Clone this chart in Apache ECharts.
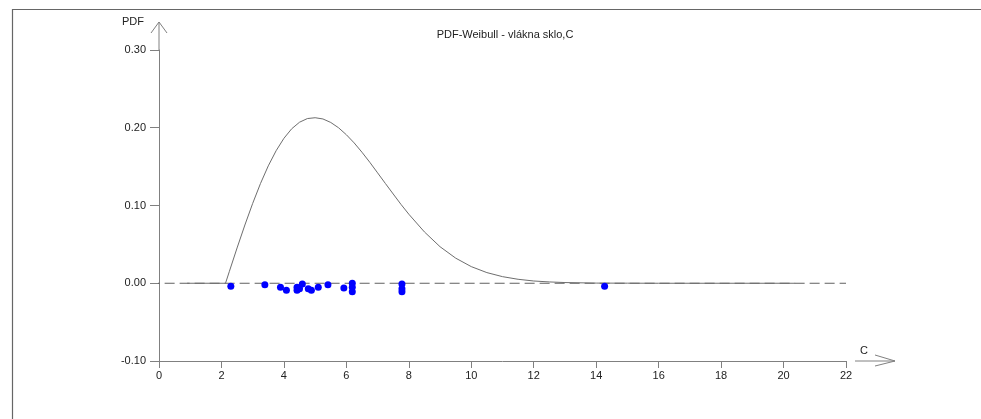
<!DOCTYPE html>
<html>
<head>
<meta charset="utf-8">
<script src="https://cdn.jsdelivr.net/npm/echarts@6/dist/echarts.min.js"></script>
<style>
  html, body { margin: 0; padding: 0; background: #fff; }
  #chart { width: 981px; height: 419px; }
</style>
</head>
<body>
<div id="chart"></div>
<script>
// fitted Weibull curve
const curveX = [0.9, 2.13, 2.25, 2.5, 2.75, 3, 3.25, 3.5, 3.75, 4, 4.25, 4.5, 4.75, 5, 5.25, 5.5, 5.75, 6, 6.25, 6.5, 6.75, 7, 7.25, 7.5, 7.75, 8, 8.5, 9, 9.5, 10, 10.5, 11, 11.5, 12, 12.5, 13, 14, 15, 16, 18, 20.37]
const curveY = [0, 0, 0.0148, 0.0454, 0.0749, 0.1027, 0.1283, 0.1510, 0.1704, 0.1864, 0.1987, 0.2071, 0.2118, 0.2129, 0.2113, 0.2068, 0.2000, 0.1910, 0.1805, 0.1685, 0.1556, 0.1420, 0.1283, 0.1148, 0.1014, 0.0888, 0.0660, 0.0470, 0.0323, 0.0214, 0.0137, 0.0085, 0.0051, 0.0029, 0.0017, 0.0009, 0.0002, 0.0001, 0, 0, 0]

// measured values (jittered just below zero)
const pointX = [2.30, 3.39, 3.89, 4.08, 4.42, 4.42, 4.50, 4.59, 4.78, 4.88, 5.10, 5.41, 5.92, 6.19, 6.19, 6.19, 7.78, 7.78, 7.78, 14.27]
const pointY = [-0.004, -0.002, -0.005, -0.009, -0.005, -0.009, -0.007, -0.001, -0.007, -0.009, -0.005, -0.002, -0.006, 0.000, -0.005, -0.011, -0.001, -0.007, -0.011, -0.004]

const zeroLineX = [-0.3, 22]
const zeroLineY = [0, 0]

const chartTitle = 'PDF-Weibull - vlákna sklo,C'
const xName = 'C'
const yName = 'PDF'

const axisColor = '#808080'
const textColor = '#222'
const font = 'Liberation Sans, Arial, sans-serif'

const chart = echarts.init(document.getElementById('chart'))

const zip = (xs, ys) => xs.map((x, i) => [x, ys[i]])

const option = {
  animation: false,
  backgroundColor: '#fff',
  title: {
    text: chartTitle,
    left: 500,
    top: 24,
    textAlign: 'center',
    textStyle: { fontFamily: font, fontSize: 11, fontWeight: 'normal', color: textColor }
  },
  grid: { left: 159, right: 135, top: 50, bottom: 58 },
  xAxis: {
    type: 'value',
    min: 0, max: 22, interval: 2,
    axisLine: { show: true, onZero: false, lineStyle: { color: axisColor, width: 1 } },
    axisTick: { show: true, length: 7, lineStyle: { color: axisColor } },
    axisLabel: { color: textColor, fontFamily: font, fontSize: 11, margin: 9 },
    splitLine: { show: false }
  },
  yAxis: {
    type: 'value',
    min: -0.1, max: 0.3, interval: 0.1,
    axisLine: { show: true, onZero: false, lineStyle: { color: axisColor, width: 1 } },
    axisTick: { show: true, length: 9, lineStyle: { color: axisColor } },
    axisLabel: { color: textColor, fontFamily: font, fontSize: 11, margin: 13, formatter: v => v.toFixed(2) },
    splitLine: { show: false }
  },
  series: [
    {
      type: 'line',
      data: zip(zeroLineX, zeroLineY),
      symbol: 'none',
      clip: false,
      lineStyle: { color: '#606060', width: 1, type: [10, 5] },
      z: 1
    },
    {
      type: 'line',
      data: zip(curveX, curveY),
      symbol: 'none',
      smooth: false,
      lineStyle: { color: '#6e6e6e', width: 1 },
      z: 2
    },
    {
      type: 'scatter',
      data: zip(pointX, pointY),
      symbol: 'circle',
      symbolSize: 7,
      itemStyle: { color: '#0000ff', opacity: 1 },
      z: 3
    }
  ]
}

chart.setOption(option)

// axis arrows and names, placed from the axis ends
const yTop = chart.convertToPixel({ gridIndex: 0 }, [0, 0.3])
const xEnd = chart.convertToPixel({ gridIndex: 0 }, [22, -0.1])
const arrowStyle = { stroke: axisColor, lineWidth: 1, fill: null }

chart.setOption({
  graphic: [
    {
      type: 'rect', silent: true, z: 0,
      shape: { x: 12.5, y: 9.5, width: 1200, height: 800 },
      style: { stroke: '#666', lineWidth: 1.2, fill: null }
    },
    {
      type: 'line', silent: true,
      shape: { x1: yTop[0], y1: yTop[1], x2: yTop[0], y2: yTop[1] - 28 },
      style: arrowStyle
    },
    {
      type: 'polyline', silent: true,
      shape: { points: [[yTop[0] - 8, yTop[1] - 17], [yTop[0], yTop[1] - 28], [yTop[0] + 8, yTop[1] - 17]] },
      style: arrowStyle
    },
    {
      type: 'text', silent: true,
      x: yTop[0] - 26, y: yTop[1] - 28,
      style: { text: yName, fill: textColor, font: '11px ' + font, textAlign: 'center', textVerticalAlign: 'middle' }
    },
    {
      type: 'line', silent: true,
      shape: { x1: xEnd[0] + 9, y1: xEnd[1], x2: xEnd[0] + 49, y2: xEnd[1] },
      style: arrowStyle
    },
    {
      type: 'polyline', silent: true,
      shape: { points: [[xEnd[0] + 29, xEnd[1] - 6], [xEnd[0] + 49, xEnd[1]], [xEnd[0] + 29, xEnd[1] + 5]] },
      style: arrowStyle
    },
    {
      type: 'text', silent: true,
      x: xEnd[0] + 18, y: xEnd[1] - 10,
      style: { text: xName, fill: textColor, font: '11px ' + font, textAlign: 'center', textVerticalAlign: 'middle' }
    }
  ]
})
</script>
</body>
</html>
